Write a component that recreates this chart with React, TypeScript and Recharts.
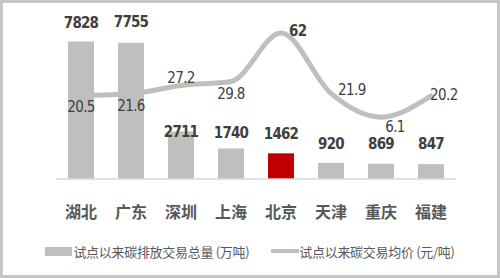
import React from 'react'
import { ComposedChart, Bar, Line, XAxis, YAxis, Cell, LabelList, Legend } from 'recharts'

const CITIES = ['湖北', '广东', '深圳', '上海', '北京', '天津', '重庆', '福建']
const VOLUMES = [7828, 7755, 2711, 1740, 1462, 920, 869, 847]
const PRICES = [20.5, 21.6, 27.2, 29.8, 62, 21.9, 6.1, 20.2]
const HIGHLIGHT = '北京'

const VOLUME_NAME = '试点以来碳排放交易总量 (万吨)'
const PRICE_NAME = '试点以来碳交易均价 (元/吨)'

// label tweaks, roughly where the original chart had them dragged
const BAR_LABEL_LIFT = [19, 21, -1, 15, 19, 19, 20, 20]
const PRICE_LABEL_POS: [number, number, 'middle' | 'start'][] = [
  [0, 12, 'middle'],
  [0, 12, 'middle'],
  [0, -7, 'middle'],
  [0, 13, 'middle'],
  [8, -2, 'start'],
  [7, -3, 'start'],
  [14, 10, 'middle'],
  [-1, -1, 'start'],
]

const data = CITIES.map((city, i) => ({ city, volume: VOLUMES[i], price: PRICES[i] }))

const GREY = '#bfbfbf'
const RED = '#c00000'
const TEXT = '#404040'
const NUM_FONT = "'Liberation Sans Narrow', 'DejaVu Sans Condensed', Roboto, sans-serif"
const CJK_FONT = "'Noto Sans CJK SC', sans-serif"

const CityTick = ({ x, y, payload }: any) => (
  <text
    x={x}
    y={y + 24}
    textAnchor="middle"
    dominantBaseline="central"
    fontSize={16}
    fontWeight={700}
    fill="#595959"
    fontFamily={CJK_FONT}
  >
    {payload.value}
  </text>
)

const BarValue = ({ x, y, width, value, index }: any) => (
  <text
    x={x + width / 2}
    y={y - BAR_LABEL_LIFT[index]}
    textAnchor="middle"
    dominantBaseline="central"
    fontSize={15}
    fontWeight={700}
    letterSpacing={-0.8}
    fill={TEXT}
    fontFamily={NUM_FONT}
  >
    {value}
  </text>
)

const PriceValue = ({ x, y, value, index }: any) => {
  const [dx, dy, anchor] = PRICE_LABEL_POS[index]
  return (
    <text
      x={x + dx}
      y={y + dy}
      textAnchor={anchor}
      dominantBaseline="central"
      fontSize={15}
      fontWeight={value === 62 ? 700 : 500}
      letterSpacing={-0.6}
      fill={TEXT}
      fontFamily={NUM_FONT}
    >
      {value}
    </text>
  )
}

const renderLegend = () => (
  <div
    style={{
      display: 'flex',
      justifyContent: 'center',
      alignItems: 'center',
      height: 20,
      fontFamily: CJK_FONT,
      fontSize: 13,
      color: '#595959',
      letterSpacing: -0.3,
    }}
  >
    <span style={{ display: 'inline-block', width: 27, height: 9, background: GREY, marginRight: 1 }} />
    <span>{VOLUME_NAME}</span>
    <span style={{ display: 'inline-block', width: 28, height: 4, background: GREY, marginLeft: 22 }} />
    <span>{PRICE_NAME}</span>
  </div>
)

export default function App() {
  return (
    <div
      style={{
        position: 'absolute',
        left: 0,
        top: 0,
        width: 500,
        height: 278,
        boxSizing: 'border-box',
        border: '3px solid #c6c6c6',
        background: '#fff',
      }}
    >
      <ComposedChart width={494} height={272} data={data} margin={{ top: 18, right: 41, left: 53, bottom: 14 }}>
        <XAxis
          dataKey="city"
          height={62}
          axisLine={{ stroke: '#d9d9d9', strokeWidth: 1.5 }}
          tickLine={false}
          tick={<CityTick />}
          interval={0}
        />
        <YAxis yAxisId="vol" hide domain={[0, 9000]} />
        <YAxis yAxisId="price" orientation="right" hide domain={[-35, 70]} />
        <Legend verticalAlign="bottom" content={renderLegend} wrapperStyle={{ bottom: 14, left: 0, width: 494 }} />
        <Bar yAxisId="vol" dataKey="volume" name={VOLUME_NAME} barSize={26} fill={GREY} isAnimationActive={false}>
          {data.map((d) => (
            <Cell key={d.city} fill={d.city === HIGHLIGHT ? RED : GREY} />
          ))}
          <LabelList dataKey="volume" content={<BarValue />} />
        </Bar>
        <Line
          yAxisId="price"
          dataKey="price"
          name={PRICE_NAME}
          type="monotone"
          stroke={GREY}
          strokeWidth={5}
          strokeLinecap="round"
          dot={false}
          isAnimationActive={false}
        >
          <LabelList dataKey="price" content={<PriceValue />} />
        </Line>
      </ComposedChart>
    </div>
  )
}
